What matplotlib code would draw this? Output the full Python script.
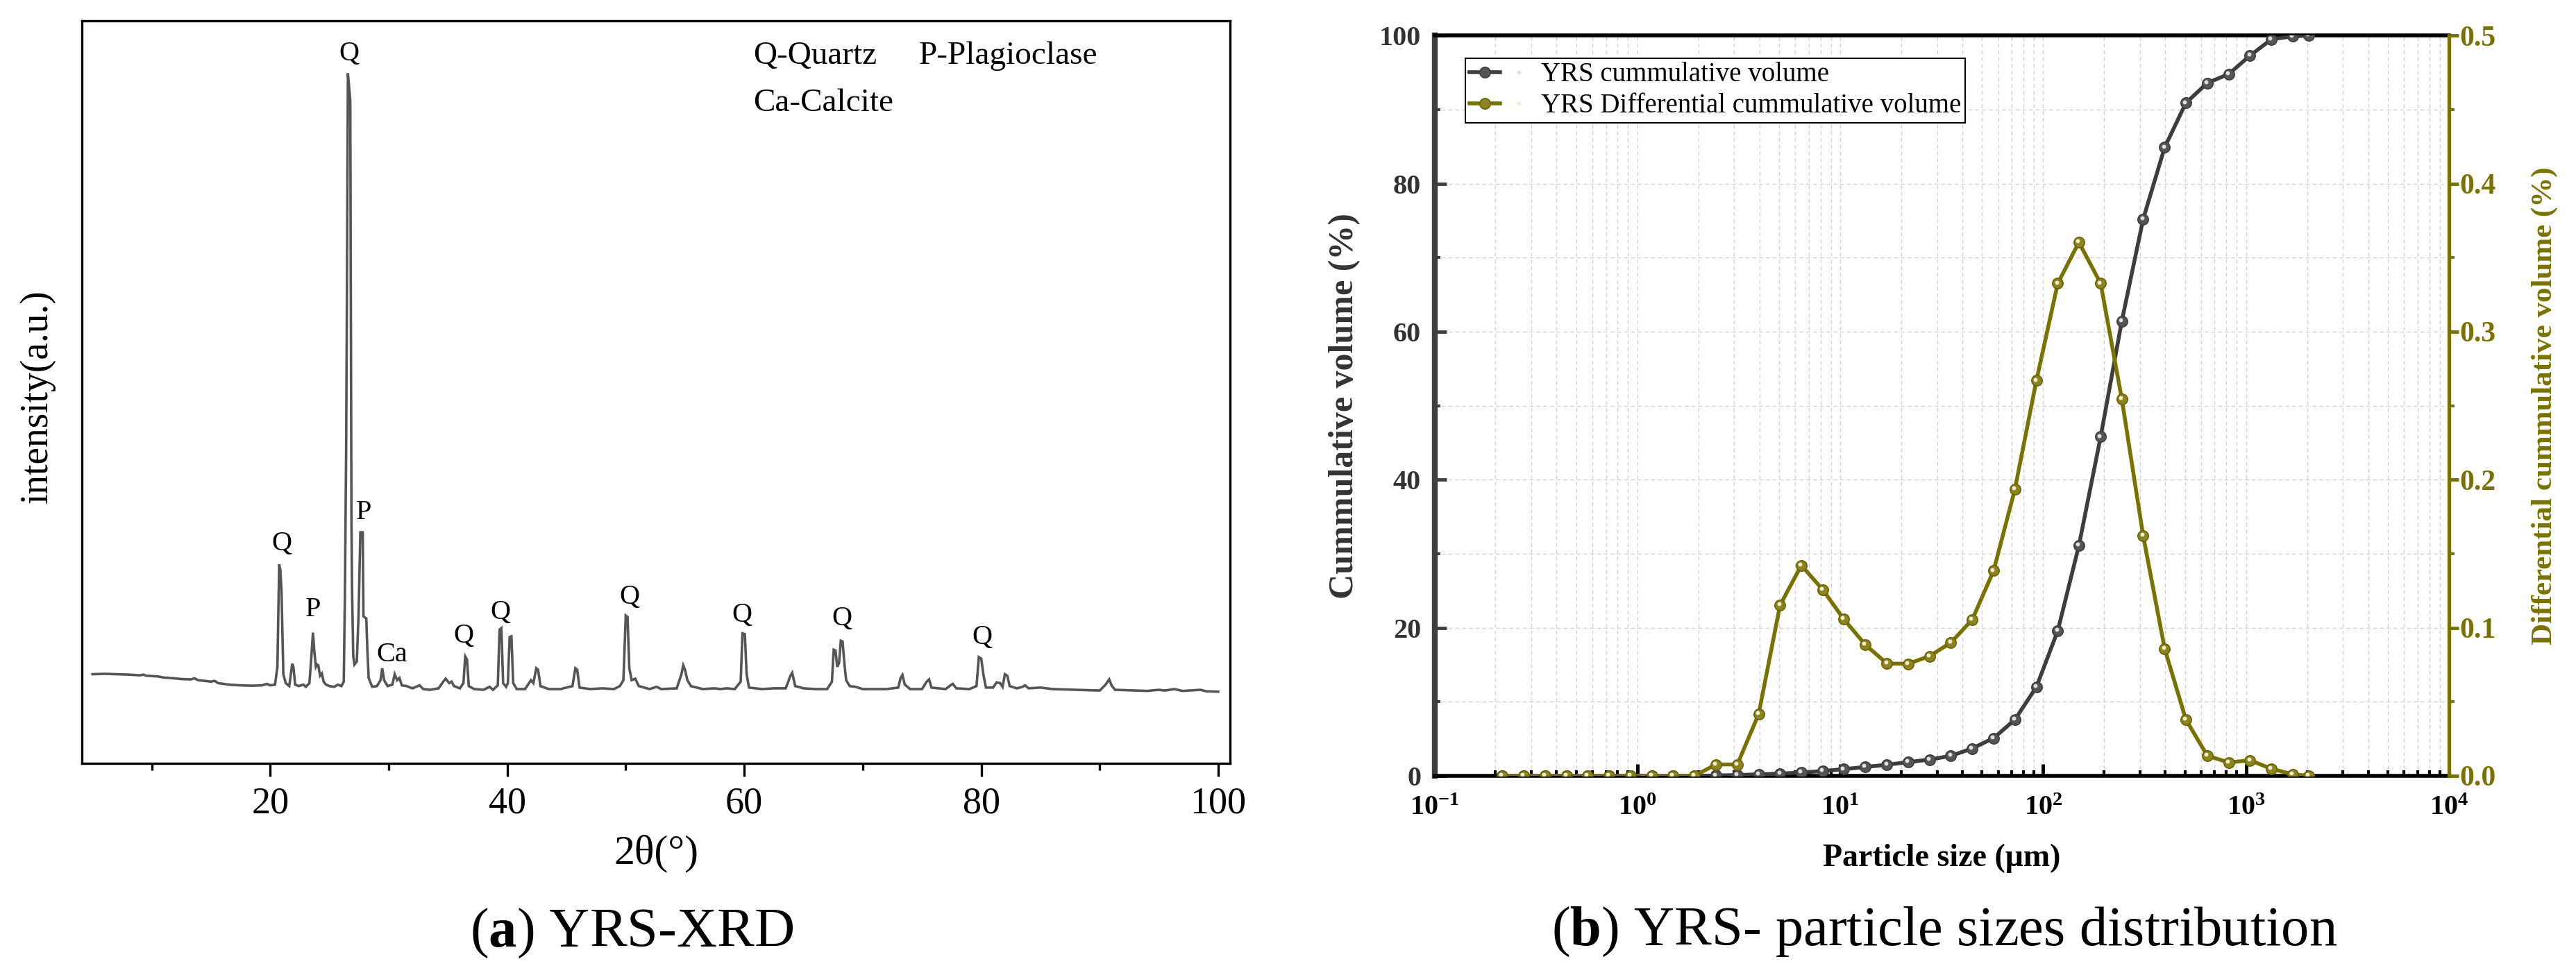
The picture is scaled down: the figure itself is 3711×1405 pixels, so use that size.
import numpy as np
import matplotlib
matplotlib.use('Agg')
import matplotlib.pyplot as plt
import matplotlib.transforms as mtransforms
from matplotlib.ticker import MultipleLocator, LogLocator, NullFormatter
from matplotlib.legend_handler import HandlerTuple

plt.rcParams['font.family'] = ['Liberation Serif', 'DejaVu Serif']
plt.rcParams['mathtext.fontset'] = 'custom'
plt.rcParams['mathtext.rm'] = 'Liberation Serif'
plt.rcParams['mathtext.bf'] = 'Liberation Serif:bold'
plt.rcParams['mathtext.it'] = 'Liberation Serif:italic'

# ---------------- (a) XRD pattern ----------------
two_theta = [5.0, 6.0, 7.0, 8.0, 9.0, 9.3, 9.5, 10.5, 11.0, 11.5, 12.5, 13.3, 13.6, 13.9,
             15.0, 15.3, 15.6, 16.5, 17.5, 18.5, 19.3, 19.7, 20.0, 20.4, 20.6, 20.75, 20.85,
             20.95, 21.1, 21.3, 21.6, 21.85, 21.95, 22.1, 22.4, 22.8, 23.0, 23.3, 23.45, 23.6,
             23.72, 23.85, 23.95, 24.05, 24.2, 24.35, 24.5, 24.7, 25.0, 25.4, 25.7, 26.0, 26.2,
             26.3, 26.4, 26.45, 26.55, 26.75, 26.85, 26.9, 27.0, 27.1, 27.3, 27.45, 27.6, 27.8,
             27.86, 28.0, 28.1, 28.2, 28.3, 28.6, 29.0, 29.3, 29.45, 29.6, 29.9, 30.3, 30.5,
             30.7, 30.9, 31.1, 31.5, 32.0, 32.6, 32.9, 33.5, 34.2, 34.6, 34.8, 35.1, 35.3, 35.5,
             36.0, 36.3, 36.45, 36.6, 36.75, 37.2, 38.0, 38.5, 38.8, 39.2, 39.35, 39.5, 39.65,
             39.9, 40.05, 40.2, 40.35, 40.5, 40.8, 41.5, 42.0, 42.2, 42.45, 42.6, 42.8, 43.5,
             44.5, 45.5, 45.75, 45.9, 46.1, 47.0, 48.0, 49.0, 49.5, 49.8, 50.0, 50.15, 50.3,
             50.5, 50.8, 51.1, 52.0, 52.6, 53.0, 54.3, 54.7, 54.85, 55.0, 55.2, 55.5, 56.5,
             57.5, 58.0, 58.5, 59.2, 59.7, 59.85, 60.05, 60.2, 60.4, 61.5, 62.5, 63.5, 63.9,
             64.05, 64.3, 65.0, 66.0, 67.0, 67.4, 67.55, 67.7, 67.85, 68.0, 68.15, 68.3, 68.45,
             68.6, 68.9, 69.4, 70.0, 71.0, 72.0, 73.0, 73.2, 73.35, 73.55, 74.0, 75.0, 75.4,
             75.6, 75.8, 77.0, 77.4, 77.6, 77.9, 79.0, 79.6, 79.8, 80.0, 80.2, 80.4, 81.0, 81.3,
             81.6, 81.8, 82.0, 82.2, 82.4, 83.0, 83.5, 83.7, 84.0, 85.0, 86.0, 88.0, 90.0, 90.5,
             90.8, 91.0, 91.3, 93.0, 94.0, 95.0, 95.5, 96.3, 97.0, 98.5, 99.0, 100.0]
intensity = [120, 120.5, 120, 119.5, 118.5, 119.5, 118, 117, 115.5, 115, 113.5, 113, 114.5, 112,
             110, 111, 108, 106, 105, 104.5, 105, 107, 105, 106, 130, 268, 260,
             230, 120, 108, 104, 134, 130, 106, 104, 106, 103, 108, 140, 176,
             150, 130, 133, 132, 118, 121, 110, 106, 104, 103, 106, 104, 110,
             231, 420, 573, 929, 892, 326, 233, 145, 133, 137, 200, 311, 311,
             198, 196, 195, 150, 115, 103, 104, 112, 128, 112, 104, 106, 120,
             112, 115, 105, 104, 101, 105, 100, 99, 101, 110, 114, 108, 110, 104,
             101, 108, 144, 140, 104, 100, 99, 103, 99, 105, 180, 182, 108,
             103, 108, 170, 171, 108, 100, 100, 112, 108, 128, 126, 104, 100,
             100, 104, 128, 126, 102, 100, 101, 100, 104, 112, 199, 197, 128,
             112, 114, 104, 100, 103, 100, 101, 120, 132, 126, 112, 104, 100,
             101, 100, 101, 100, 110, 175, 174, 120, 102, 100, 101, 101, 118,
             122, 104, 101, 100, 100, 110, 153, 152, 130, 135, 165, 164, 135,
             112, 104, 103, 100, 100, 100, 102, 115, 119, 106, 100, 100, 110,
             113, 102, 100, 105, 107, 101, 100, 104, 143, 141, 118, 102, 102, 109,
             108, 103, 120, 118, 104, 101, 103, 105, 101, 102, 100, 99, 98, 106,
             113, 105, 99, 98, 97.5, 99, 98, 100, 97.5, 99, 97, 96.5]

phase_labels = ['Q', 'P', 'Q', 'P', 'Ca', 'Q', 'Q', 'Q', 'Q', 'Q', 'Q']
label_theta = [20.95, 23.6, 26.65, 27.9, 30.25, 36.3, 39.45, 50.3, 59.8, 68.25, 80.1]
label_height = [296, 207, 955, 338, 146, 171, 203, 224, 199, 195, 170]

xrd_xticks = [20, 40, 60, 80, 100]
xrd_xticklabels = ['20', '40', '60', '80', '100']

# ---------------- (b) particle size distribution ----------------
particle_size = [0.216, 0.275, 0.350, 0.447, 0.569, 0.725, 0.924, 1.18, 1.50, 1.91,
                 2.44, 3.11, 3.96, 5.05, 6.43, 8.19, 10.4, 13.3, 17.0, 21.6,
                 27.5, 35.1, 44.7, 57.0, 72.6, 92.6, 118, 150, 192, 244,
                 311, 397, 505, 644, 821, 1046, 1333, 1699, 2040]
cumulative = [0, 0, 0, 0, 0, 0, 0, 0, 0, 0,
              0.05, 0.1, 0.2, 0.3, 0.45, 0.65, 0.9, 1.2, 1.5, 1.85,
              2.2, 2.7, 3.7, 5.1, 7.6, 12.0, 19.6, 31.1, 45.8, 61.4,
              75.2, 84.9, 90.9, 93.6, 94.8, 97.3, 99.5, 99.9, 100]
differential = [0, 0, 0, 0, 0, 0, 0, 0, 0, 0,
                0.0077, 0.0077, 0.0417, 0.1153, 0.1422, 0.1258, 0.1059, 0.0885, 0.0758, 0.0757,
                0.0808, 0.090, 0.1055, 0.1386, 0.1938, 0.267, 0.3326, 0.3604, 0.3326, 0.2547,
                0.1622, 0.0859, 0.038, 0.0136, 0.009, 0.0105, 0.0048, 0.001, 0.0]

psd_xticks = [0.1, 1, 10, 100, 1000, 10000]
psd_xticklabels = [r'$\mathbf{10^{-1}}$', r'$\mathbf{10^{0}}$', r'$\mathbf{10^{1}}$',
                   r'$\mathbf{10^{2}}$', r'$\mathbf{10^{3}}$', r'$\mathbf{10^{4}}$']
cum_ticks = [0, 20, 40, 60, 80, 100]
cum_ticklabels = ['0', '20', '40', '60', '80', '100']
diff_ticks = [0.0, 0.1, 0.2, 0.3, 0.4, 0.5]
diff_ticklabels = ['0.0', '0.1', '0.2', '0.3', '0.4', '0.5']

# ---------------- figure ----------------
W, H = 3711, 1405
fig = plt.figure(figsize=(W / 100, H / 100), dpi=100)

# ---- panel (a)
ax1 = fig.add_axes([118 / W, 1 - 1100 / H, (1772 - 118) / W, (1100 - 29.6) / H])
ax1.plot(two_theta, intensity, color='#555555', lw=2.6, solid_joinstyle='miter')
ax1.set_xlim(4.1, 101)
ax1.set_ylim(0, 1000)
for s in ax1.spines.values():
    s.set_linewidth(2.4)
    s.set_color('black')
ax1.set_xticks(xrd_xticks, labels=xrd_xticklabels, fontsize=39)
ax1.xaxis.set_minor_locator(MultipleLocator(10))
ax1.tick_params(axis='x', which='major', direction='out', length=14, width=2.4, pad=10)
ax1.tick_params(axis='x', which='minor', direction='out', length=7, width=2.4)
ax1.tick_params(axis='y', which='both', left=False, labelleft=False)
ax1.set_xlabel('2θ(°)', fontsize=43)
ax1.xaxis.set_label_coords(0.5, -0.1215)
ax1.xaxis.label.set_va('center')
ax1.set_ylabel('intensity(a.u.)', fontsize=40, va='center')
ax1.yaxis.set_label_coords(-0.0387, 0.494)

for lab, tx, ty in zip(phase_labels, label_theta, label_height):
    ax1.text(tx, ty, lab, fontsize=29, ha='center', va='center', color='black')

ax1.text(0.5846, 0.952, 'Q-Quartz', transform=ax1.transAxes, fontsize=34, va='center', ha='left')
ax1.text(0.729, 0.952, 'P-Plagioclase', transform=ax1.transAxes, fontsize=34, va='center', ha='left')
ax1.text(0.5846, 0.889, 'Ca-Calcite', transform=ax1.transAxes, fontsize=34, va='center', ha='left')

# ---- panel (b)
dark = '#3d3d3d'
olive = '#7a7200'
ax2 = fig.add_axes([2066.5 / W, 1 - 1118 / H, (3528 - 2066.5) / W, (1118 - 51.3) / H])
ax3 = ax2.twinx()

ax2.set_xscale('log')
ax2.set_xlim(0.1, 1e4)
ax2.set_ylim(0, 100)
ax3.set_ylim(0, 0.5)

ax2.set_axisbelow(True)
ax2.grid(which='both', axis='both', linestyle=(0, (4, 3)), color='#d2d2d2', lw=1.0)

hl2 = mtransforms.offset_copy(ax2.transData, fig=fig, x=-1.3, y=1.3, units='points')
hl3 = mtransforms.offset_copy(ax3.transData, fig=fig, x=-1.3, y=1.3, units='points')

l_dark, = ax2.plot(particle_size, cumulative, color=dark, lw=4, marker='o', ms=11,
                   mfc='#555555', mec=dark, mew=1.2, zorder=3)
h_dark, = ax2.plot(particle_size, cumulative, ls='none', marker='o', ms=4.2,
                   mfc='#e0e0e0', mec='none', transform=hl2, zorder=4)
l_olive, = ax3.plot(particle_size, differential, color=olive, lw=4, marker='o', ms=11,
                    mfc='#8c8420', mec='#6a6300', mew=1.2, zorder=3)
h_olive, = ax3.plot(particle_size, differential, ls='none', marker='o', ms=4.2,
                    mfc='#f0edd0', mec='none', transform=hl3, zorder=4)

# spines
ax2.spines['left'].set_color('#404040')
ax2.spines['left'].set_linewidth(6)
ax2.spines['bottom'].set_color('black')
ax2.spines['bottom'].set_linewidth(4)
ax2.spines['top'].set_color('black')
ax2.spines['top'].set_linewidth(4)
ax2.spines['right'].set_visible(False)
for k in ['left', 'bottom', 'top']:
    ax3.spines[k].set_visible(False)
ax3.spines['right'].set_color(olive)
ax3.spines['right'].set_linewidth(3.8)

# ticks
ax2.set_xticks(psd_xticks, labels=psd_xticklabels, fontsize=29)
ax2.xaxis.set_minor_locator(LogLocator(base=10, subs=np.arange(2, 10), numticks=30))
ax2.xaxis.set_minor_formatter(NullFormatter())
ax2.tick_params(axis='x', which='major', direction='in', length=12, width=3.5, pad=20,
                top=False, colors='black')
ax2.tick_params(axis='x', which='minor', direction='in', length=5.5, width=3.0, top=False)
ax2.set_yticks(cum_ticks, labels=cum_ticklabels, fontsize=29, fontweight='bold')
ax2.yaxis.set_minor_locator(MultipleLocator(10))
ax2.tick_params(axis='y', which='major', direction='in', length=12, width=3.5, pad=14,
                right=False, color='#404040', labelcolor='#333333')
ax2.tick_params(axis='y', which='minor', direction='in', length=6, width=3.0, right=False,
                color='#404040')

ax3.set_yticks(diff_ticks, labels=diff_ticklabels, fontsize=30, fontweight='bold')
ax3.yaxis.set_minor_locator(MultipleLocator(0.05))
ax3.tick_params(axis='y', which='major', direction='out', length=10, width=3.5, pad=1,
                color=olive, labelcolor=olive)
ax3.tick_params(axis='y', which='minor', direction='out', length=6, width=3.0, color=olive)

ax2.set_xlabel('Particle size (μm)', fontsize=33, fontweight='bold')
ax2.xaxis.set_label_coords(0.5, -0.1116)
ax2.xaxis.label.set_va('center')
ax2.set_ylabel('Cummulative volume (%)', fontsize=36, fontweight='bold', va='center',
               color='#333333')
ax2.yaxis.set_label_coords(-0.0886, 0.5)
ax3.set_ylabel('Differential cummulative volume (%)', fontsize=31, fontweight='bold',
               va='center', color=olive, rotation=90)
ax3.yaxis.set_label_coords(1.0944, 0.5)

leg = ax3.legend([(l_dark, h_dark), (l_olive, h_olive)],
                 ['YRS cummulative volume', 'YRS Differential cummulative volume'],
                 handler_map={tuple: HandlerTuple(ndivide=None)},
                 loc='upper left', bbox_to_anchor=(0.0304, 0.9698), borderaxespad=0,
                 fontsize=28, frameon=True, fancybox=False, framealpha=1,
                 edgecolor='black', borderpad=0.15, labelspacing=0.2,
                 handlelength=2.4, handletextpad=0.25)
leg.get_frame().set_linewidth(1.5)

# captions
fig.text(910 / W, 1 - 1345 / H, r'($\mathbf{a}$) YRS-XRD', fontsize=58, ha='center', va='center')
fig.text(2801 / W, 1 - 1343 / H, r'($\mathbf{b}$) YRS- particle sizes distribution',
         fontsize=58, ha='center', va='center')

fig.savefig('out.png', dpi=100)
